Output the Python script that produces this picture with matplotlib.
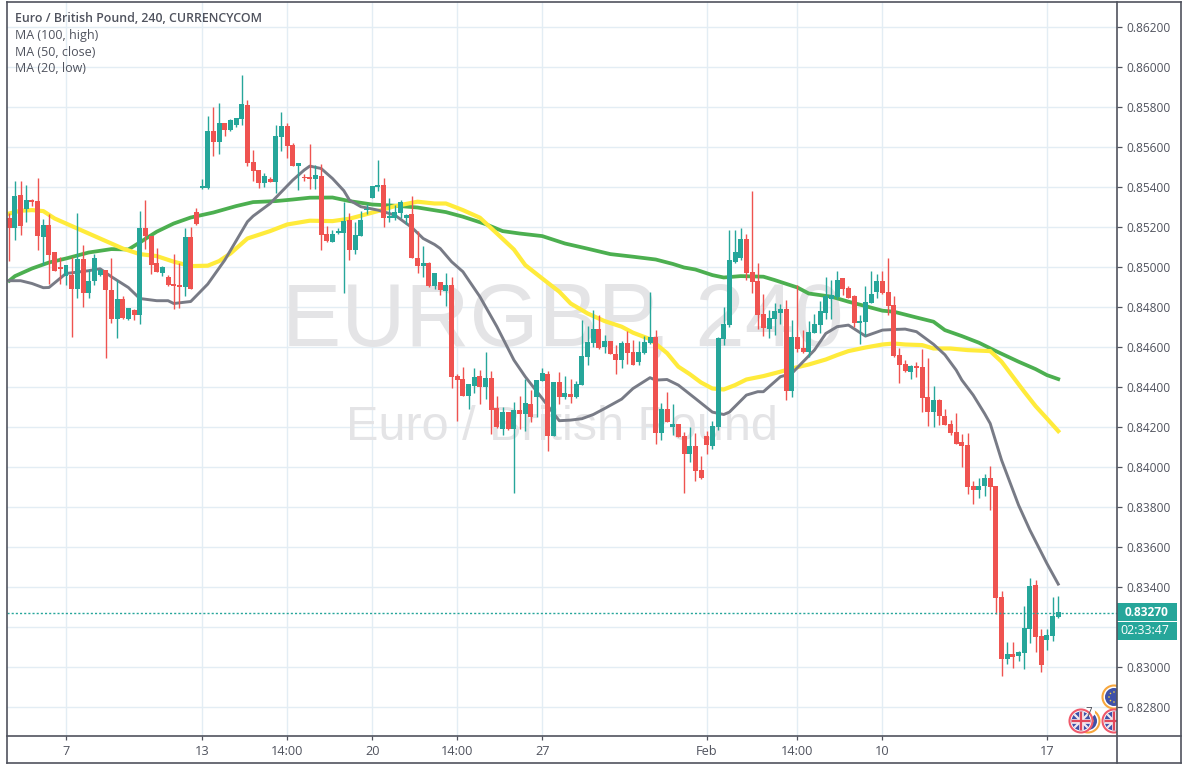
#!/usr/bin/env python3

import numpy as np
import matplotlib
matplotlib.use("Agg")
from matplotlib import pyplot as plt
from matplotlib.lines import Line2D
from matplotlib.patches import Circle, Rectangle
from matplotlib.transforms import IdentityTransform

# prices are in points (1e-5), bar after bar
opens = [85243, 85193, 85358, 85288, 85333, 85328, 85148, 85208, 85073, 85000,
         84953, 84958, 84890, 85038, 84870, 84928, 84958, 84983, 84885, 84738,
         84838, 84738, 84783, 84758, 85193, 85153, 85018, 84968, 84948, 84913,
         84908, 84898, 85148, 85273, 85393, 85393, 85678, 85623, 85718, 85683,
         85708, 85738, 85808, 85523, 85483, 85418, 85438, 85423, 85648, 85703,
         85608, 85503, 85448, 85448, 85438, 85453, 85163, 85123, 85168, 85168,
         85233, 85083, 85153, 85283, 85343, 85400, 85408, 85243, 85243, 85268,
         85243, 85263, 85043, 85003, 85018, 84903, 84923, 84878, 84908, 84453,
         84438, 84353, 84403, 84453, 84398, 84443, 84293, 84188, 84273, 84188,
         84283, 84263, 84313, 84348, 84428, 84463, 84153, 84423, 84348, 84363,
         84348, 84408, 84548, 84618, 84688, 84598, 84628, 84563, 84533, 84618,
         84573, 84523, 84568, 84618, 84648, 84168, 84288, 84198, 84213, 84153,
         84063, 84103, 83983, 84153, 84103, 84198, 84638, 84708, 85023, 85043,
         85138, 84973, 84928, 84763, 84688, 84738, 84768, 84788, 84378, 84648,
         84593, 84573, 84668, 84708, 84768, 84838, 84848, 84943, 84893, 84853,
         84718, 84723, 84818, 84873, 84928, 84873, 84808, 84558, 84513, 84473,
         84503, 84498, 84348, 84273, 84333, 84253, 84213, 84173, 84123, 84108,
         83903, 83883, 83903, 83943, 83903, 83348, 83038, 83063, 83053, 83068,
         83188, 83408, 83153, 83133, 83153, 83248]
highs = [85267, 85428, 85428, 85408, 85338, 85443, 85238, 85263, 85073, 85050,
         85008, 85050, 85267, 85111, 84991, 85063, 84991, 84983, 85043, 84933,
         84853, 84793, 84791, 85280, 85333, 85153, 85093, 85003, 84958, 85063,
         85018, 85193, 85198, 85293, 85438, 85753, 85798, 85818, 85718, 85738,
         85743, 85958, 85833, 85583, 85483, 85468, 85448, 85708, 85773, 85718,
         85618, 85518, 85463, 85613, 85508, 85513, 85203, 85183, 85193, 85323,
         85268, 85223, 85278, 85316, 85403, 85533, 85443, 85343, 85308, 85333,
         85266, 85353, 85178, 85103, 85023, 84968, 84923, 84968, 84948, 84463,
         84498, 84413, 84493, 84483, 84573, 84478, 84353, 84298, 84273, 84323,
         84353, 84438, 84383, 84433, 84493, 84478, 84423, 84473, 84453, 84438,
         84428, 84733, 84703, 84783, 84758, 84658, 84628, 84608, 84628, 84678,
         84633, 84628, 84653, 84873, 84683, 84318, 84373, 84313, 84213, 84173,
         84198, 84168, 84053, 84178, 84228, 84648, 84798, 85183, 85183, 85193,
         85163, 85378, 85018, 84863, 84783, 84818, 84813, 84833, 84733, 84908,
         84683, 84728, 84763, 84828, 84948, 84933, 84978, 84943, 84903, 84858,
         84758, 84903, 84978, 84963, 84978, 85043, 84853, 84593, 84533, 84508,
         84523, 84588, 84543, 84403, 84338, 84288, 84233, 84268, 84163, 84168,
         83928, 83943, 83963, 84003, 83903, 83378, 83123, 83123, 83078, 83303,
         83443, 83433, 83188, 83188, 83348, 83353]
lows = [85030, 85133, 85158, 85223, 85303, 85083, 85008, 84916, 84978, 84913,
        84908, 84650, 84845, 84800, 84845, 84908, 84953, 84543, 84720, 84646,
        84738, 84733, 84736, 84713, 85091, 84966, 84973, 84953, 84903, 84788,
        84793, 84853, 84890, 85208, 85388, 85388, 85553, 85563, 85653, 85678,
        85698, 85708, 85503, 85428, 85393, 85398, 85423, 85368, 85578, 85543,
        85503, 85383, 85428, 85391, 85388, 85083, 85125, 85123, 85163, 84868,
        85033, 85066, 85153, 85266, 85343, 85378, 85198, 85223, 85233, 85243,
        85213, 85043, 84968, 84948, 84898, 84888, 84858, 84803, 84393, 84228,
        84353, 84288, 84368, 84313, 84338, 84163, 84193, 84158, 84183, 83870,
        84188, 84178, 84223, 84248, 84428, 84078, 84153, 84313, 84338, 84318,
        84343, 84408, 84508, 84598, 84588, 84568, 84563, 84463, 84493, 84513,
        84508, 84508, 84563, 84613, 84113, 84133, 84223, 84158, 84148, 83868,
        84023, 83928, 83938, 84063, 84088, 84183, 84608, 84698, 85018, 85033,
        84933, 84868, 84688, 84653, 84643, 84658, 84713, 84333, 84348, 84573,
        84568, 84549, 84668, 84668, 84738, 84738, 84838, 84858, 84843, 84698,
        84613, 84653, 84818, 84843, 84863, 84758, 84548, 84418, 84473, 84438,
        84448, 84273, 84203, 84198, 84208, 84208, 84158, 84113, 83998, 83863,
        83813, 83843, 83853, 83783, 83263, 82953, 83013, 82993, 83028, 82988,
        83118, 83073, 82973, 83083, 83128, 83243]
closes = [85193, 85353, 85203, 85333, 85323, 85153, 85208, 85058, 84978, 84990,
          85008, 84890, 85038, 84870, 84928, 85043, 84983, 84885, 84738, 84838,
          84743, 84793, 84758, 85193, 85153, 85008, 84973, 84998, 84908, 84903,
          84898, 85148, 84890, 85213, 85403, 85678, 85623, 85718, 85683, 85733,
          85743, 85813, 85518, 85478, 85418, 85453, 85423, 85653, 85703, 85603,
          85503, 85518, 85443, 85438, 85458, 85158, 85128, 85163, 85178, 85228,
          85083, 85158, 85233, 85291, 85403, 85408, 85243, 85256, 85273, 85323,
          85258, 85043, 85003, 85018, 84903, 84968, 84883, 84908, 84448, 84433,
          84353, 84413, 84448, 84398, 84443, 84283, 84198, 84273, 84188, 84283,
          84263, 84318, 84248, 84433, 84468, 84153, 84423, 84348, 84368, 84348,
          84413, 84553, 84623, 84688, 84593, 84628, 84563, 84533, 84618, 84568,
          84508, 84573, 84623, 84648, 84168, 84288, 84223, 84213, 84148, 84063,
          84103, 83978, 83943, 84108, 84203, 84643, 84713, 85033, 85073, 85138,
          84968, 84923, 84758, 84693, 84743, 84778, 84788, 84378, 84648, 84588,
          84573, 84673, 84713, 84778, 84853, 84858, 84933, 84888, 84843, 84718,
          84728, 84823, 84863, 84928, 84868, 84803, 84553, 84508, 84478, 84503,
          84493, 84343, 84273, 84333, 84253, 84208, 84168, 84113, 84103, 83898,
          83883, 83903, 83943, 83898, 83343, 83038, 83063, 83048, 83073, 83193,
          83403, 83148, 83008, 83158, 83253, 83273]

# moving averages, read at some bars only
ma20_bars = [0, 2, 4, 6, 7, 10, 14, 16, 18, 21, 23, 26, 28, 29, 32, 35, 38, 42, 43, 46,
             50, 52, 53, 55, 57, 59, 60, 62, 65, 68, 71, 73, 75, 76, 78, 80, 83, 86, 89,
             91, 94, 96, 97, 99, 101, 103, 105, 108, 110, 113, 114, 116, 118, 121, 124,
             126, 127, 130, 132, 133, 136, 138, 140, 142, 144, 146, 148, 151, 154, 156,
             158, 160, 163, 165, 167, 168, 170, 172, 173, 175, 178, 180, 183, 185]
ma20_vals = [84930, 84930, 84916, 84895, 84896, 84966, 84980, 84990, 84950, 84896,
             84841, 84830, 84830, 84816, 84826, 84913, 85033, 85225, 85253, 85316,
             85433, 85483, 85503, 85491, 85441, 85380, 85333, 85300, 85283, 85258,
             85196, 85141, 85111, 85091, 85025, 84975, 84850, 84700, 84533, 84450,
             84341, 84266, 84230, 84233, 84240, 84261, 84291, 84338, 84391, 84445,
             84433, 84436, 84408, 84341, 84273, 84261, 84273, 84358, 84375, 84375,
             84450, 84466, 84525, 84583, 84666, 84700, 84708, 84653, 84683, 84686,
             84688, 84675, 84612, 84560, 84483, 84433, 84358, 84266, 84216, 84033,
             83808, 83683, 83516, 83413]

ma50_bars = [0, 2, 4, 6, 8, 12, 16, 20, 23, 26, 29, 32, 35, 37, 39, 42, 46, 49, 53, 57,
             60, 62, 65, 68, 72, 75, 77, 80, 83, 86, 89, 91, 94, 97, 99, 102, 105, 108,
             110, 113, 116, 118, 120, 122, 124, 126, 128, 130, 133, 136, 138, 141, 144,
             146, 148, 151, 154, 156, 158, 161, 163, 166, 169, 173, 175, 177, 179, 181,
             183, 185]
ma50_vals = [85266, 85280, 85283, 85278, 85241, 85191, 85141, 85091, 85063, 85053,
             85025, 85003, 85005, 85028, 85066, 85141, 85178, 85211, 85230, 85228,
             85240, 85255, 85278, 85303, 85325, 85316, 85316, 85283, 85245, 85166,
             85086, 85008, 84941, 84875, 84816, 84766, 84728, 84700, 84670, 84638,
             84568, 84500, 84463, 84421, 84391, 84386, 84408, 84436, 84453, 84475,
             84491, 84511, 84536, 84558, 84578, 84596, 84611, 84616, 84611, 84608,
             84591, 84591, 84583, 84578, 84525, 84450, 84375, 84303, 84241, 84178]

ma100_bars = [0, 1, 4, 7, 10, 14, 18, 21, 23, 26, 29, 32, 36, 40, 43, 47, 50, 53, 57,
              60, 64, 68, 72, 77, 80, 84, 87, 90, 94, 98, 102, 106, 110, 114, 117, 119,
              121, 124, 126, 129, 133, 135, 139, 141, 145, 148, 151, 154, 156, 160, 163,
              165, 168, 171, 174, 178, 181, 183, 185]
ma100_vals = [84930, 84953, 84991, 85021, 85041, 85071, 85088, 85086, 85121, 85175,
              85216, 85246, 85271, 85303, 85323, 85328, 85336, 85345, 85346, 85328,
              85311, 85305, 85296, 85273, 85250, 85213, 85178, 85166, 85153, 85116,
              85090, 85063, 85050, 85036, 85014, 84996, 84986, 84958, 84946, 84953,
              84950, 84933, 84896, 84866, 84850, 84825, 84803, 84780, 84775, 84746,
              84725, 84683, 84653, 84620, 84578, 84525, 84488, 84458, 84438]

time_bars = [10, 34, 49, 64, 79, 94, 123, 139, 154, 183]
time_labels = ["7", "13", "14:00", "20", "14:00", "27", "Feb", "14:00", "10", "17"]
price_ticks = [0.828, 0.830, 0.832, 0.834, 0.836, 0.838, 0.840, 0.842, 0.844, 0.846,
               0.848, 0.850, 0.852, 0.854, 0.856, 0.858, 0.860, 0.862]
last_price = 0.83270

W, H = 1188, 764
UP = "#26a69a"
DOWN = "#ef5350"
GRID = "#e3edf4"
EDGE = "#50535e"
TEXT = "#50535e"

plt.rcParams['font.family'] = ['Open Sans', 'DejaVu Sans']


def pane_x(px):
    return (px - 9.3) / 5.67


def pane_y(py):
    return 0.86 - (py - 66.7) * 0.00005


def clipped_line(xs, ys, color, lw, disc, z):
    ln = Line2D(xs, ys, color=color, lw=lw, transform=IdentityTransform(), zorder=z)
    ax.add_line(ln)
    ln.set_clip_path(disc)


def eu_icon(cx, cy, r, z):
    py = H - cy
    ax.add_patch(Circle((cx, py), r + 1, transform=IdentityTransform(), facecolor="white",
                        edgecolor="#f7a73e", lw=1.5, zorder=z))
    ax.add_patch(Circle((cx, py), r - 1.5, transform=IdentityTransform(), facecolor="#3f51a8",
                        edgecolor="none", zorder=z + 0.01))
    for a in np.linspace(0, 2 * np.pi, 8, endpoint=False):
        ax.add_patch(Circle((cx + 5 * np.cos(a), py + 5 * np.sin(a)), 0.8,
                            transform=IdentityTransform(), facecolor="#f4d23c",
                            edgecolor="none", zorder=z + 0.02))


def uk_icon(cx, cy, r, z):
    py = H - cy
    ax.add_patch(Circle((cx, py), r, transform=IdentityTransform(), facecolor="white",
                        edgecolor="#f0596b", lw=1.5, zorder=z))
    disc = Circle((cx, py), r - 2, transform=IdentityTransform(), facecolor="#3f51a8",
                  edgecolor="none", zorder=z + 0.01)
    ax.add_patch(disc)
    for s in (-1, 1):
        clipped_line([cx - r, cx + r], [py - s * r, py + s * r], "#f3e9ee", 1.6, disc, z + 0.02)
    clipped_line([cx - r, cx + r], [py, py], "#f3e9ee", 3.4, disc, z + 0.03)
    clipped_line([cx, cx], [py - r, py + r], "#f3e9ee", 3.4, disc, z + 0.03)
    clipped_line([cx - r, cx + r], [py, py], "#e2485a", 1.6, disc, z + 0.04)
    clipped_line([cx, cx], [py - r, py + r], "#e2485a", 1.6, disc, z + 0.04)


fig = plt.figure(figsize=(W / 100, H / 100), dpi=100, facecolor="white")
ax = fig.add_axes([7 / W, 1 - 735.7 / H, 1110 / W, 734.2 / H])
ax.set_xlim(pane_x(7), pane_x(1117))
ax.set_ylim(pane_y(735.7), pane_y(1.5))
ax.set_axisbelow(True)
for s in ax.spines.values():
    s.set_visible(False)

ax.grid(True, color=GRID, lw=1.0)

# watermark
ax.text(pane_x(563), pane_y(322), "EURGBP, 240", color="#e4e4e6", fontsize=64,
        family="Liberation Sans", ha="center", va="center", zorder=1)
ax.text(pane_x(562), pane_y(427), "Euro / British Pound", color="#e4e4e6", fontsize=35,
        family="Liberation Sans", ha="center", va="center", zorder=1)

# moving averages go under the candles
ax.plot(ma100_bars, np.array(ma100_vals) / 1e5, color="#4caf50", lw=2.7, zorder=2)
ax.plot(ma50_bars, np.array(ma50_vals) / 1e5, color="#ffeb3b", lw=3.0, zorder=2.1)
ax.plot(ma20_bars, np.array(ma20_vals) / 1e5, color="#787b86", lw=2.1, zorder=2.2)

o = np.array(opens) / 1e5
h = np.array(highs) / 1e5
l = np.array(lows) / 1e5
c = np.array(closes) / 1e5
bars = np.arange(len(o))
colors = [UP if c[i] >= o[i] else DOWN for i in bars]
ax.vlines(bars, l, h, colors=colors, lw=1.0, zorder=3)
ax.bar(bars, np.abs(c - o), bottom=np.minimum(o, c), width=0.88, color=colors, lw=0, zorder=3.1)

ax.axhline(last_price, color=UP, lw=1.0, ls=(0, (1.5, 1.5)), zorder=4)

# event icons at the bottom right
eu_icon(1114, 697, 10.5, 5)
eu_icon(1088, 721, 10.5, 5.1)
ax.add_patch(Circle((1089, H - 712), 6, transform=IdentityTransform(), facecolor="white",
                    edgecolor="none", zorder=5.2))
uk_icon(1081, 721, 11.5, 5.3)
uk_icon(1114, 721, 11.5, 5.4)
ax.text(1089 / W, 1 - 713 / H, "7", transform=fig.transFigure, fontsize=8.5, color=TEXT,
        ha="center", va="center", zorder=6)

# legend text
ax.text(15 / W, 1 - 18 / H, "Euro / British Pound, 240, CURRENCYCOM", transform=fig.transFigure,
        fontsize=8.9, fontweight="semibold", color=TEXT, va="center", zorder=7)
for yy, txt in [(35, "MA (100, high)"), (52, "MA (50, close)"), (69, "MA (20, low)")]:
    ax.text(15 / W, 1 - yy / H, txt, transform=fig.transFigure, fontsize=9.0, color=TEXT,
            va="center", zorder=7)

ax.yaxis.tick_right()
ax.set_yticks(price_ticks)
# the 0.83200 label sits under the last price tags
ax.set_yticklabels(["" if abs(p - 0.832) < 1e-9 else "%.5f" % p for p in price_ticks],
                   fontsize=8.6, color=TEXT)
ax.set_xticks(time_bars)
ax.set_xticklabels(time_labels, fontsize=9.2, color=TEXT)
ax.tick_params(axis="y", length=3.5, width=0.9, color=EDGE, pad=3)
ax.tick_params(axis="x", length=3, width=0.9, color=EDGE, pad=4)

# frame of the whole widget
for x0, y0, x1, y1 in [(6.5, 1.5, 1181, 1.5), (6.5, 763, 1181, 763), (6.5, 1.5, 6.5, 763),
                       (1181, 1.5, 1181, 763), (1117, 1.5, 1117, 763), (6.5, 735.7, 1181, 735.7)]:
    fig.add_artist(Line2D([x0 / W, x1 / W], [1 - y0 / H, 1 - y1 / H], color=EDGE, lw=1.2))

# last price tags
fig.add_artist(Rectangle((1117 / W, 1 - 621 / H), 60 / W, 18 / H, transform=fig.transFigure,
                         facecolor=UP, edgecolor="none"))
fig.add_artist(Rectangle((1117 / W, 1 - 640 / H), 60 / W, 18 / H, transform=fig.transFigure,
                         facecolor=UP, edgecolor="none"))
fig.text(1147 / W, 1 - 612 / H, "%.5f" % last_price, color="white", fontsize=8.6,
         fontweight="bold", ha="center", va="center")
fig.text(1145 / W, 1 - 631 / H, "02:33:47", color="white", fontsize=8.9,
         ha="center", va="center")

fig.savefig("out.png", dpi=100)
